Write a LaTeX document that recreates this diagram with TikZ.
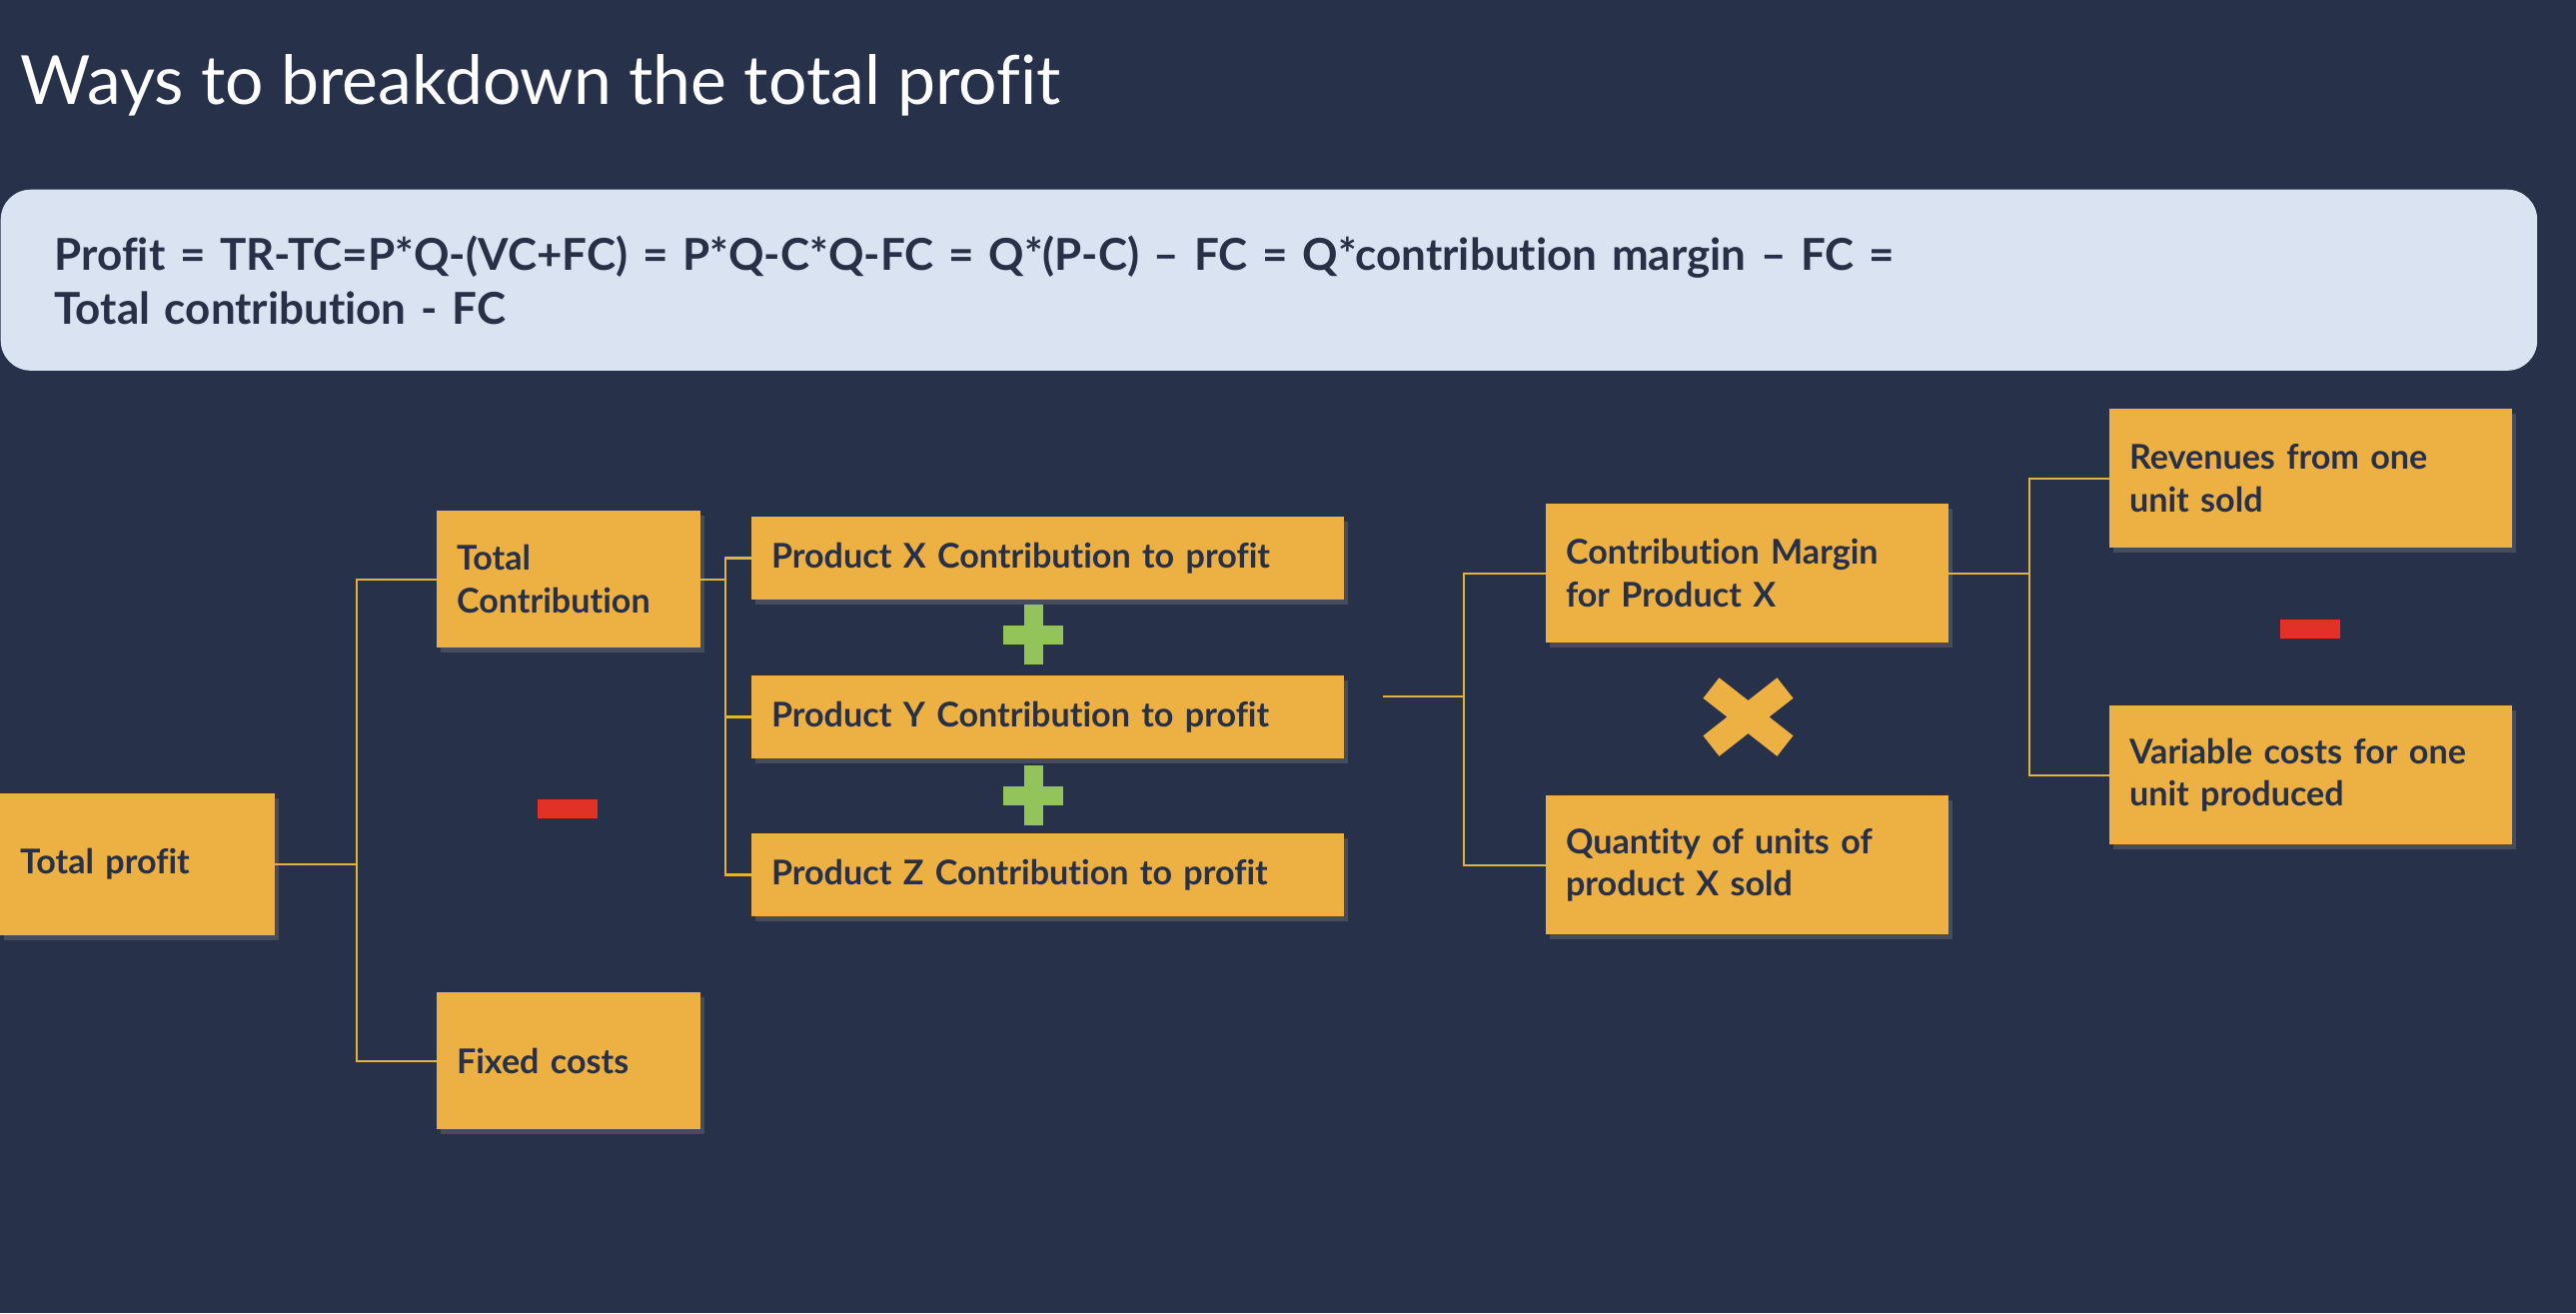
\documentclass[tikz,border=0pt]{standalone}
\usepackage{fontspec}
\setmainfont{Lato}[Ligatures={TeX,NoCommon}]
\usetikzlibrary{shadows}
\definecolor{slate}{RGB}{40,49,74}
\definecolor{panel}{RGB}{218,227,242}
\definecolor{cardfill}{RGB}{237,177,67}
\definecolor{ink}{RGB}{40,48,72}
\definecolor{linkcol}{RGB}{222,180,60}
\definecolor{plusgreen}{RGB}{146,196,90}
\definecolor{minusred}{RGB}{226,50,40}
\newcommand{\cardfont}{\fontsize{9.7}{12}\selectfont\bfseries}

\begin{document}
\begin{tikzpicture}[x=0.01cm,y=-0.01cm]
	% `card' is used for the orange boxes, `link' for the thin connectors.
	\tikzstyle{card} = [fill=cardfill,text=ink,font=\cardfont,align=left,anchor=north west,inner xsep=0.2cm,inner ysep=0pt,outer sep=0pt,drop shadow={shadow xshift=0.04cm,shadow yshift=-0.05cm,opacity=0.35}]
	\tikzstyle{cardnarrow} = [card,text width=2.24cm,minimum height=1.37cm]
	\tikzstyle{cardwide} = [card,text width=5.53cm,minimum height=0.83cm]
	\tikzstyle{cardmid} = [card,text width=3.63cm,minimum height=1.39cm]
	\tikzstyle{link} = [draw=linkcol,line width=0.6pt]
	%
	\fill[slate] (0,0) rectangle (2578,1314);
	\useasboundingbox (0,0) rectangle (2578,1314);
	% Title and formula panel.
	\node[anchor=base west,text=white,font=\fontsize{19.3}{24}\selectfont,inner sep=0pt] (title) at (20,104) {Ways to breakdown the total profit};
	\node[anchor=north west,fill=panel,rounded corners=0.3cm,text=ink,align=left,
		font=\fontsize{12.5}{15.4}\selectfont\bfseries,inner xsep=0.54cm,inner ysep=0pt,
		text width=24.29cm,minimum height=1.81cm] (formula) at (0,189)
		{Profit = TR-TC=P*Q-(VC+FC) = P*Q-C*Q-FC = Q*(P-C) -- FC = Q*contribution margin -- FC =\\
		 Total contribution - FC};
	% First level.
	\node[card,text width=2.35cm,minimum height=1.42cm] (tprofit) at (0,794) {Total profit};
	\node[cardnarrow] (tcontrib) at (437,511) {Total\\Contribution};
	\node[cardnarrow] (fixed) at (437,993) {Fixed costs};
	% Products.
	\node[cardwide] (prodx) at (752,517) {Product X Contribution to profit};
	\node[cardwide] (prody) at (752,676) {Product Y Contribution to profit};
	\node[cardwide] (prodz) at (752,834) {Product Z Contribution to profit};
	% Contribution of one product.
	\node[cardmid] (margin) at (1547,504) {Contribution Margin\\for Product X};
	\node[cardmid] (qty) at (1547,796) {Quantity of units of\\product X sold};
	\node[cardmid] (revenue) at (2111,409) {Revenues from one\\unit sold};
	\node[cardmid] (varcost) at (2111,706) {Variable costs for one\\unit produced};
	% Draw connectors.
	\draw[link] (tprofit.east) -- ++(82,0) coordinate (split1);
	\draw[link] (split1) |- (tcontrib.west)  (split1) |- (fixed.west);
	\draw[link] (tcontrib.east) -- ++(25,0) coordinate (split2);
	\draw[link] (split2) |- (prodx.west)  (split2) |- (prodz.west)  (split2 |- prody.west) -- (prody.west);
	\coordinate (feed) at (1384,697);
	\draw[link] (feed) -- ++(81,0) coordinate (split3);
	\draw[link] (split3) |- (margin.west)  (split3) |- (qty.west);
	\draw[link] (margin.east) -- ++(81,0) coordinate (split4);
	\draw[link] (split4) |- (revenue.west)  (split4) |- (varcost.west);
	% Operator signs.
	\foreach \y in {635,796} {
		\fill[plusgreen] (1004,\y-9.5) rectangle (1064,\y+9.5);
		\fill[plusgreen] (1024.5,\y-30) rectangle (1043.5,\y+30);
	}
	\fill[minusred] (538,800) rectangle (598,819);
	\fill[minusred] (2282,620) rectangle (2342,639);
	\draw[cardfill,line width=0.26cm] (1712.5,688.5) -- (1786.5,746.5)  (1786.5,688.5) -- (1712.5,746.5);
\end{tikzpicture}
\end{document}
